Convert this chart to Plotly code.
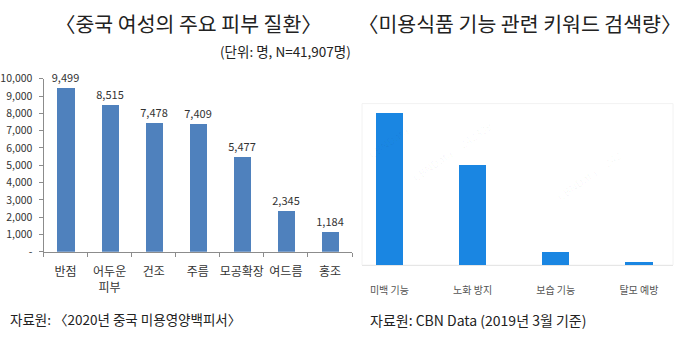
import plotly.graph_objects as go

W, H = 680, 340

# Left chart data
skin_categories = ["반점", "어두운<br>피부", "건조", "주름", "모공확장", "여드름", "홍조"]
skin_values = [9499, 8515, 7478, 7409, 5477, 2345, 1184]
skin_tickvals = [0, 1000, 2000, 3000, 4000, 5000, 6000, 7000, 8000, 9000, 10000]
skin_ticktext = ["-", "1,000", "2,000", "3,000", "4,000", "5,000", "6,000", "7,000", "8,000", "9,000", "10,000"]

# Right chart data (relative search volume)
kw_categories = ["미백 기능", "노화 방지", "보습 기능", "탈모 예방"]
kw_values = [100, 66, 9, 2]

FONT = "Noto Sans CJK KR"

def px(x):
    return x / W

def py(y):
    return (H - y) / H

fig = go.Figure()

fig.add_trace(go.Bar(
    x=skin_categories, y=skin_values,
    marker=dict(color="#4f81bd", line=dict(width=0)),
    width=0.39,
    text=[f"{v:,}" for v in skin_values],
    textposition="outside",
    constraintext="none",
    textfont=dict(size=11, color="#333333", family=FONT),
    cliponaxis=False,
    xaxis="x", yaxis="y",
    showlegend=False,
    hoverinfo="skip",
))

fig.add_trace(go.Bar(
    x=list(range(len(kw_categories))), y=kw_values,
    marker=dict(color="#1a86e2", line=dict(width=0)),
    width=0.33,
    xaxis="x2", yaxis="y2",
    showlegend=False,
    hoverinfo="skip",
))

fig.update_layout(
    width=W, height=H,
    margin=dict(l=0, r=0, t=0, b=0),
    paper_bgcolor="white", plot_bgcolor="rgba(0,0,0,0)",
    font=dict(family=FONT, color="#333333"),
    bargap=0,
    xaxis=dict(
        domain=[px(43.5), px(352)],
        type="category",
        showline=True, linecolor="#8c8c8c", linewidth=1,
        ticks="outside", ticklen=4, tickcolor="#8c8c8c",
        tickson="boundaries",
        tickangle=0,
        ticklabelstandoff=9,
        tickfont=dict(size=12, color="#333333", family=FONT),
        showgrid=False, zeroline=False,
        anchor="y",
    ),
    yaxis=dict(
        domain=[py(255), py(74)],
        range=[0, 10000],
        tickvals=skin_tickvals, ticktext=skin_ticktext,
        showline=True, linecolor="#8c8c8c", linewidth=1,
        ticks="outside", ticklen=4, tickcolor="#8c8c8c",
        ticklabelstandoff=4,
        tickfont=dict(size=10.5, color="#333333", family=FONT),
        showgrid=False, zeroline=False,
        anchor="x",
    ),
    xaxis2=dict(
        domain=[px(362), px(673)],
        range=[-0.33, 3.41],
        tickvals=list(range(len(kw_categories))), ticktext=kw_categories,
        showline=True, linecolor="#e6e6e6", linewidth=1,
        ticks="outside", ticklen=16, tickcolor="rgba(0,0,0,0)",
        tickangle=0,
        tickfont=dict(size=10, color="#555555", family=FONT),
        showgrid=False, zeroline=False,
        anchor="y2",
    ),
    yaxis2=dict(
        domain=[py(269), py(100)],
        range=[0, 105.6],
        visible=False,
        anchor="x2",
    ),
)

# faint plot-area frame on the right chart
fig.add_shape(type="rect", xref="paper", yref="paper",
              x0=px(362), x1=px(673), y0=py(269), y1=py(100),
              line=dict(color="#f2f2f2", width=1), layer="below")

annotations = [
    dict(text="〈중국 여성의 주요 피부 질환〉", x=px(188), y=py(16), size=20.5, color="#222222",
         xanchor="center"),
    dict(text="(단위: 명, N=41,907명)", x=px(353), y=py(45), size=13.5, color="#222222",
         xanchor="right"),
    dict(text="자료원: 〈2020년 중국 미용영양백피서〉", x=px(8), y=py(325), size=13.5, color="#222222",
         xanchor="left"),
    dict(text="〈미용식품 기능 관련 키워드 검색량〉", x=px(519), y=py(16), size=20.5, color="#222222",
         xanchor="center"),
    dict(text="자료원: CBN Data (2019년 3월 기준)", x=px(368), y=py(326), size=14, color="#222222",
         xanchor="left"),
]
for a in annotations:
    fig.add_annotation(text=a["text"], x=a["x"], y=a["y"], xref="paper", yref="paper",
                       xanchor=a["xanchor"], yanchor="middle", showarrow=False,
                       font=dict(size=a["size"], color=a["color"], family=FONT))

# faint watermarks
for txt, x, y in [("CBNData", 388, 140), ("CBNData ©242339", 498, 150), ("CBNData ©242", 628, 175)]:
    fig.add_annotation(text=txt, x=px(x), y=py(y), xref="paper", yref="paper",
                       showarrow=False, textangle=-35,
                       font=dict(size=11, color="rgba(0,0,0,0.035)", family=FONT))

fig.write_html("out.html")
